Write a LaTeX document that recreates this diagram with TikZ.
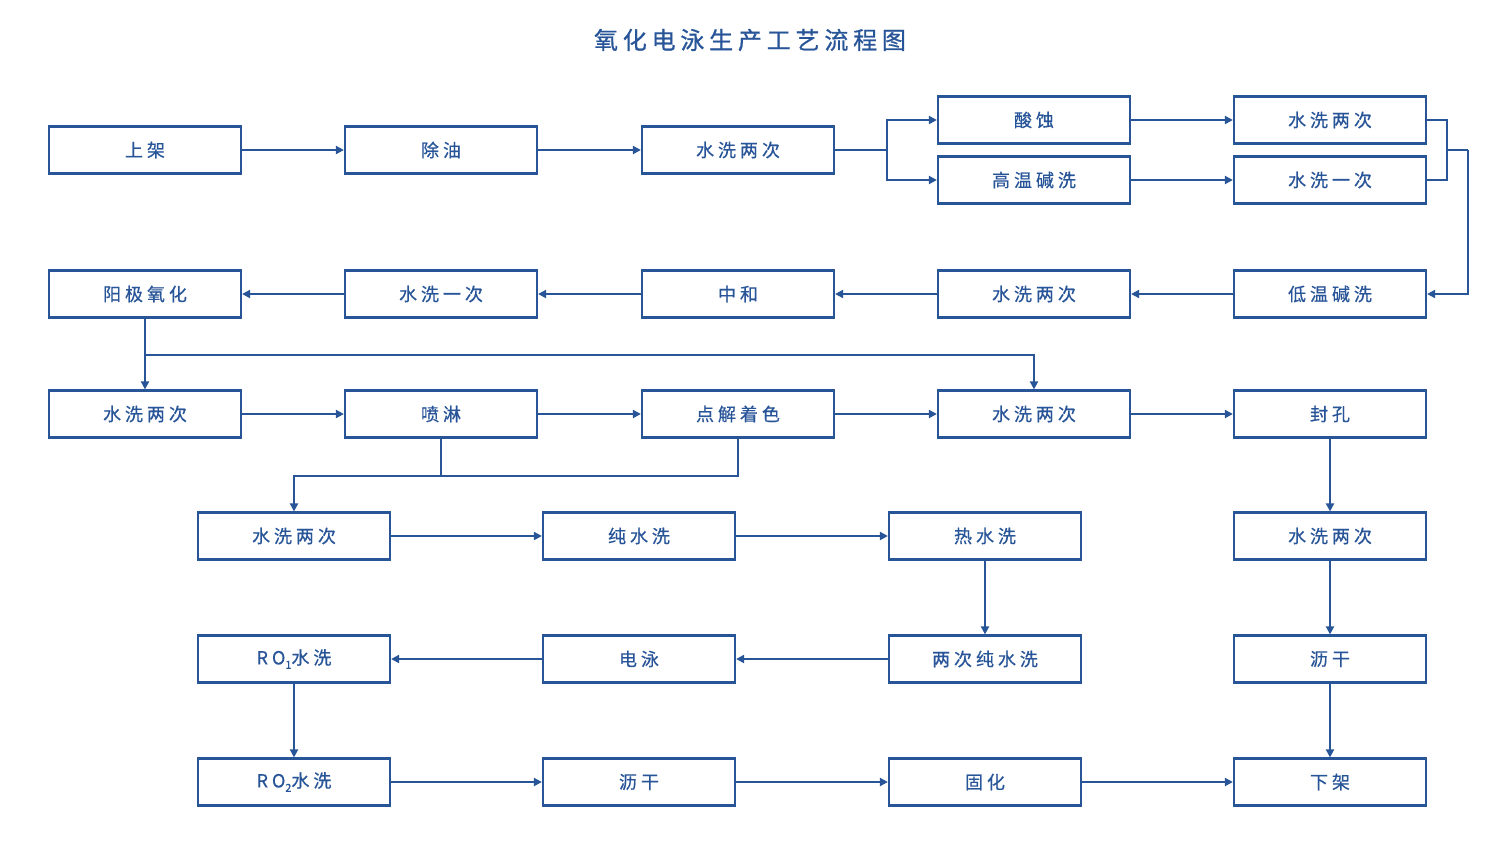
\documentclass[tikz,border=0pt]{standalone}
\usepackage{fontspec}
\setmainfont{Noto Sans CJK SC}
\usetikzlibrary{arrows.meta}
\definecolor{ln}{RGB}{40,84,152}
\tikzset{
  box/.style={draw=ln, line width=2.2pt, minimum width=192pt, minimum height=47pt, inner sep=0pt, text=ln,
    font=\fontsize{18}{20}\selectfont\addfontfeature{LetterSpace=22,FakeBold=0.6}},
  con/.style={draw=ln, line width=2.2pt},
  arr/.style={con, -{Triangle[length=8pt,width=8pt]}},
  ttl/.style={text=ln, font=\fontsize{24}{26}\selectfont\addfontfeature{LetterSpace=20,FakeBold=0.8}}
}
\begin{document}
\begin{tikzpicture}[x=1pt,y=-1pt]
\useasboundingbox (0,0) rectangle (1500,855);
\node[ttl] (T) at (750,40) {氧化电泳生产工艺流程图};
% row 1
\node[box] (A1) at (145,150) {上架};
\node[box] (A2) at (441,150) {除油};
\node[box] (A3) at (738,150) {水洗两次};
\node[box] (B1) at (1034,120) {酸蚀};
\node[box] (B2) at (1034,180) {高温碱洗};
\node[box] (C1) at (1330,120) {水洗两次};
\node[box] (C2) at (1330,180) {水洗一次};
% row 2
\node[box] (D1) at (145,294) {阳极氧化};
\node[box] (D2) at (441,294) {水洗一次};
\node[box] (D3) at (738,294) {中和};
\node[box] (D4) at (1034,294) {水洗两次};
\node[box] (D5) at (1330,294) {低温碱洗};
% row 3
\node[box] (E1) at (145,414) {水洗两次};
\node[box] (E2) at (441,414) {喷淋};
\node[box] (E3) at (738,414) {点解着色};
\node[box] (E4) at (1034,414) {水洗两次};
\node[box] (E5) at (1330,414) {封孔};
% row 4
\node[box] (F1) at (294,536) {水洗两次};
\node[box] (F2) at (639,536) {纯水洗};
\node[box] (F3) at (985,536) {热水洗};
\node[box] (F4) at (1330,536) {水洗两次};
% row 5
\node[box] (G1) at (294,659) {RO\raisebox{-0.45ex}{\fontsize{11}{12}\selectfont 1}水洗};
\node[box] (G2) at (639,659) {电泳};
\node[box] (G3) at (985,659) {两次纯水洗};
\node[box] (G4) at (1330,659) {沥干};
% row 6
\node[box] (H1) at (294,782) {RO\raisebox{-0.45ex}{\fontsize{11}{12}\selectfont 2}水洗};
\node[box] (H2) at (639,782) {沥干};
\node[box] (H3) at (985,782) {固化};
\node[box] (H4) at (1330,782) {下架};
% connectors row 1
\draw[arr] (A1) -- (A2);
\draw[arr] (A2) -- (A3);
\coordinate (s1) at (887,150);
\draw[con] (A3.east) -- (s1);
\draw[arr] (s1) |- (B1.west);
\draw[arr] (s1) |- (B2.west);
\draw[arr] (B1) -- (C1);
\draw[arr] (B2) -- (C2);
\coordinate (m1) at (1447,150);
\coordinate (m2) at (1468,150);
\draw[con] (C1.east) -| (m1);
\draw[con] (C2.east) -| (m1);
\draw[con] (m1) -- (m2);
\draw[arr] (m2) |- (D5.east);
% row 2
\draw[arr] (D5) -- (D4);
\draw[arr] (D4) -- (D3);
\draw[arr] (D3) -- (D2);
\draw[arr] (D2) -- (D1);
\draw[arr] (D1) -- (E1);
\coordinate (j1) at (145,355);
\draw[arr] (j1) -| (E4.north);
% row 3
\draw[arr] (E1) -- (E2);
\draw[arr] (E2) -- (E3);
\draw[arr] (E3) -- (E4);
\draw[arr] (E4) -- (E5);
\coordinate (j2) at (441,476);
\draw[con] (E2.south) -- (j2);
\draw[con] (E3.south) |- (j2);
\draw[arr] (j2) -| (F1.north);
\draw[arr] (E5) -- (F4);
% row 4
\draw[arr] (F1) -- (F2);
\draw[arr] (F2) -- (F3);
\draw[arr] (F3) -- (G3);
\draw[arr] (F4) -- (G4);
% row 5
\draw[arr] (G3) -- (G2);
\draw[arr] (G2) -- (G1);
\draw[arr] (G1) -- (H1);
\draw[arr] (G4) -- (H4);
% row 6
\draw[arr] (H1) -- (H2);
\draw[arr] (H2) -- (H3);
\draw[arr] (H3) -- (H4);
\end{tikzpicture}
\end{document}
